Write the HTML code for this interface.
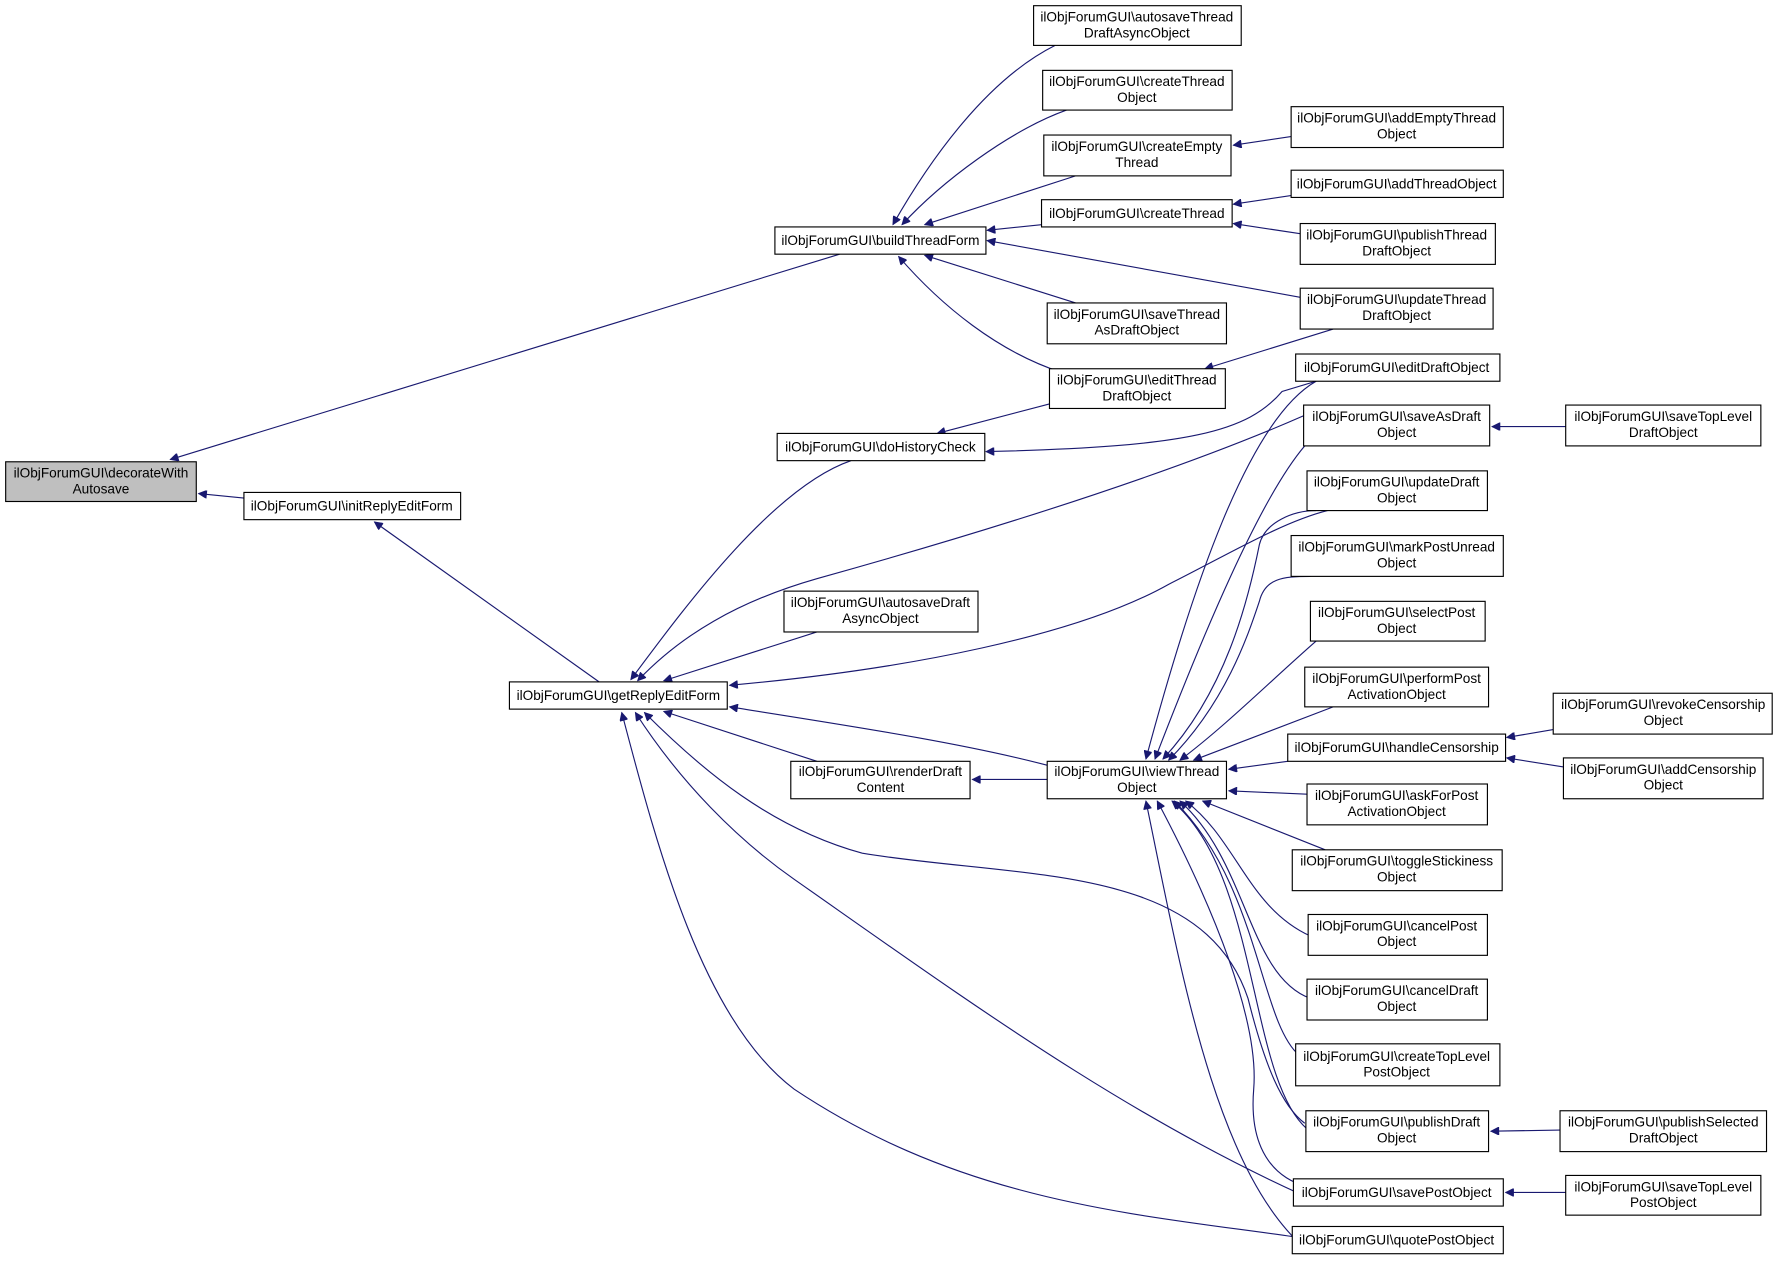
<!DOCTYPE html>
<html><head><meta charset="utf-8"><style>
html,body{margin:0;padding:0;background:#fff}
svg{display:block}
text{font-family:"Liberation Sans",sans-serif;font-size:12px;fill:#000}
</style></head><body>
<svg width="1779" height="1261" viewBox="0 0 1568 1111.4" xmlns="http://www.w3.org/2000/svg">
<defs>
<marker id="a" viewBox="0 0 10 10" refX="0" refY="5" markerWidth="10" markerHeight="7" markerUnits="userSpaceOnUse" orient="auto">
<path d="M0,5 L10,0 L10,10 z" fill="#191970" stroke="#191970"/>
</marker>
</defs>
<g fill="none" stroke="#191970" stroke-width="1" marker-start="url(#a)">
<path d="M150,405 L740,224"/>
<path d="M175,435 L215,439"/>
<path d="M330,460 L528,601"/>
<path d="M787,198 C820,140 870,70 930,40"/>
<path d="M795,198 C830,160 890,115 940,97"/>
<path d="M815,198 L948,155"/>
<path d="M870,203 L918,198"/>
<path d="M870,212 L1146,262"/>
<path d="M815,225 L948,267"/>
<path d="M792,226 C830,270 880,310 935,328"/>
<path d="M1087,128 L1140,120"/>
<path d="M1087,180 L1140,172"/>
<path d="M1087,197 L1146,206"/>
<path d="M1062,325 L1175,290"/>
<path d="M826,382 L925,356"/>
<path d="M869,398 C1050,394 1100,380 1130,345 L1160,336"/>
<path d="M556,599 C600,540 680,430 750,406"/>
<path d="M562,600 C600,560 650,530 720,510 C900,460 1050,410 1150,366"/>
<path d="M585,600 L720,557"/>
<path d="M643,604 C800,590 950,560 1030,515 C1080,490 1130,460 1170,450"/>
<path d="M643,623 C750,640 850,655 925,675"/>
<path d="M585,627 L720,671"/>
<path d="M568,628 C620,680 680,730 760,752 C900,775 1060,760 1100,880 C1115,940 1130,975 1150,990"/>
<path d="M560,628 C600,690 650,740 700,775 C850,880 1000,990 1170,1063"/>
<path d="M548,628 C580,750 620,900 700,960 C850,1060 1000,1070 1140,1090"/>
<path d="M857,687 L923,687"/>
<path d="M1010,669 C1050,520 1100,370 1160,336"/>
<path d="M1018,669 C1060,560 1110,440 1150,393"/>
<path d="M1025,669 C1080,610 1100,530 1110,480 C1115,460 1140,450 1160,450"/>
<path d="M1030,670 C1080,620 1100,560 1110,530 C1115,510 1130,508 1155,508"/>
<path d="M1040,670 C1080,640 1120,600 1160,565"/>
<path d="M1052,670 L1175,623"/>
<path d="M1083,678 L1135,671"/>
<path d="M1083,697 L1152,700"/>
<path d="M1060,706 L1168,749"/>
<path d="M1045,706 C1090,740 1100,800 1155,825"/>
<path d="M1040,706 C1100,760 1100,860 1155,880"/>
<path d="M1035,706 C1110,780 1110,900 1145,930"/>
<path d="M1033,706 C1110,770 1100,950 1152,995"/>
<path d="M1020,706 C1070,800 1110,900 1105,960 C1100,1020 1130,1040 1150,1045"/>
<path d="M1010,706 C1040,850 1070,1030 1150,1100"/>
<path d="M1328,650 L1369,643"/>
<path d="M1328,668 L1378,676"/>
<path d="M1315,376 L1380,376"/>
<path d="M1314,997 L1375,996"/>
<path d="M1327,1051 L1380,1051"/>
</g>
<g stroke="#000" stroke-width="1" fill="#fff">
<rect x="5" y="407" width="168" height="35" fill="#bfbfbf"/>
<rect x="215" y="434" width="191" height="24"/>
<rect x="683" y="200" width="186" height="24"/>
<rect x="449" y="601" width="192" height="24"/>
<rect x="685" y="382" width="183" height="24"/>
<rect x="691" y="521" width="171" height="36"/>
<rect x="697" y="671" width="158" height="33"/>
<rect x="923" y="671" width="158" height="33"/>
<rect x="911" y="5" width="183" height="35"/>
<rect x="919" y="62" width="167" height="35"/>
<rect x="920" y="119" width="165" height="36"/>
<rect x="918" y="176" width="168" height="24"/>
<rect x="923" y="267" width="158" height="36"/>
<rect x="925" y="325" width="155" height="35"/>
<rect x="1138" y="94" width="187" height="36"/>
<rect x="1138" y="150" width="187" height="24"/>
<rect x="1146" y="197" width="172" height="36"/>
<rect x="1146" y="254" width="170" height="36"/>
<rect x="1142" y="312" width="180" height="24"/>
<rect x="1149" y="357" width="164" height="36"/>
<rect x="1380" y="357" width="172" height="36"/>
<rect x="1152" y="415" width="159" height="35"/>
<rect x="1138" y="472" width="187" height="36"/>
<rect x="1155" y="530" width="154" height="35"/>
<rect x="1150" y="588" width="162" height="35"/>
<rect x="1135" y="647" width="192" height="24"/>
<rect x="1369" y="611" width="193" height="36"/>
<rect x="1378" y="668" width="176" height="36"/>
<rect x="1152" y="691" width="159" height="36"/>
<rect x="1139" y="749" width="185" height="36"/>
<rect x="1153" y="806" width="158" height="36"/>
<rect x="1152" y="863" width="159" height="36"/>
<rect x="1142" y="920" width="180" height="37"/>
<rect x="1151" y="979" width="161" height="36"/>
<rect x="1375" y="979" width="182" height="36"/>
<rect x="1140" y="1039" width="185" height="24"/>
<rect x="1380" y="1036" width="172" height="35"/>
<rect x="1139" y="1081" width="186" height="24"/>
</g>
<g text-anchor="middle">
<text x="89" y="421">ilObjForumGUI\decorateWith</text><text x="89" y="435">Autosave</text>
<text x="310" y="450">ilObjForumGUI\initReplyEditForm</text>
<text x="776" y="216">ilObjForumGUI\buildThreadForm</text>
<text x="545" y="617">ilObjForumGUI\getReplyEditForm</text>
<text x="776" y="398">ilObjForumGUI\doHistoryCheck</text>
<text x="776" y="535">ilObjForumGUI\autosaveDraft</text><text x="776" y="549">AsyncObject</text>
<text x="776" y="684">ilObjForumGUI\renderDraft</text><text x="776" y="698">Content</text>
<text x="1002" y="684">ilObjForumGUI\viewThread</text><text x="1002" y="698">Object</text>
<text x="1002" y="19">ilObjForumGUI\autosaveThread</text><text x="1002" y="33">DraftAsyncObject</text>
<text x="1002" y="76">ilObjForumGUI\createThread</text><text x="1002" y="90">Object</text>
<text x="1002" y="133">ilObjForumGUI\createEmpty</text><text x="1002" y="147">Thread</text>
<text x="1002" y="192">ilObjForumGUI\createThread</text>
<text x="1002" y="281">ilObjForumGUI\saveThread</text><text x="1002" y="295">AsDraftObject</text>
<text x="1002" y="339">ilObjForumGUI\editThread</text><text x="1002" y="353">DraftObject</text>
<text x="1231" y="108">ilObjForumGUI\addEmptyThread</text><text x="1231" y="122">Object</text>
<text x="1231" y="166">ilObjForumGUI\addThreadObject</text>
<text x="1231" y="211">ilObjForumGUI\publishThread</text><text x="1231" y="225">DraftObject</text>
<text x="1231" y="268">ilObjForumGUI\updateThread</text><text x="1231" y="282">DraftObject</text>
<text x="1231" y="328">ilObjForumGUI\editDraftObject</text>
<text x="1231" y="371">ilObjForumGUI\saveAsDraft</text><text x="1231" y="385">Object</text>
<text x="1466" y="371">ilObjForumGUI\saveTopLevel</text><text x="1466" y="385">DraftObject</text>
<text x="1231" y="429">ilObjForumGUI\updateDraft</text><text x="1231" y="443">Object</text>
<text x="1231" y="486">ilObjForumGUI\markPostUnread</text><text x="1231" y="500">Object</text>
<text x="1231" y="544">ilObjForumGUI\selectPost</text><text x="1231" y="558">Object</text>
<text x="1231" y="602">ilObjForumGUI\performPost</text><text x="1231" y="616">ActivationObject</text>
<text x="1231" y="663">ilObjForumGUI\handleCensorship</text>
<text x="1466" y="625">ilObjForumGUI\revokeCensorship</text><text x="1466" y="639">Object</text>
<text x="1466" y="682">ilObjForumGUI\addCensorship</text><text x="1466" y="696">Object</text>
<text x="1231" y="705">ilObjForumGUI\askForPost</text><text x="1231" y="719">ActivationObject</text>
<text x="1231" y="763">ilObjForumGUI\toggleStickiness</text><text x="1231" y="777">Object</text>
<text x="1231" y="820">ilObjForumGUI\cancelPost</text><text x="1231" y="834">Object</text>
<text x="1231" y="877">ilObjForumGUI\cancelDraft</text><text x="1231" y="891">Object</text>
<text x="1231" y="935">ilObjForumGUI\createTopLevel</text><text x="1231" y="949">PostObject</text>
<text x="1231" y="993">ilObjForumGUI\publishDraft</text><text x="1231" y="1007">Object</text>
<text x="1466" y="993">ilObjForumGUI\publishSelected</text><text x="1466" y="1007">DraftObject</text>
<text x="1231" y="1055">ilObjForumGUI\savePostObject</text>
<text x="1466" y="1050">ilObjForumGUI\saveTopLevel</text><text x="1466" y="1064">PostObject</text>
<text x="1231" y="1097">ilObjForumGUI\quotePostObject</text>
</g>
</svg>
</body></html>
